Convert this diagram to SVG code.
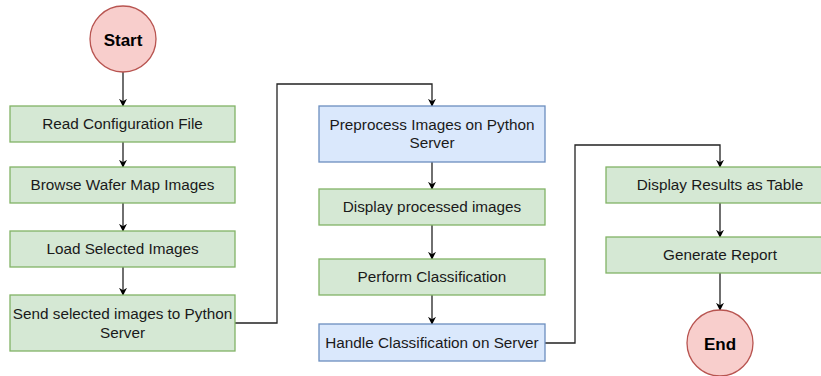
<svg xmlns="http://www.w3.org/2000/svg" width="821" height="376" viewBox="0 0 821 376">
  <defs>
    <marker id="arrow" viewBox="0 0 10 10" refX="9" refY="5" markerWidth="8" markerHeight="8" markerUnits="userSpaceOnUse" orient="auto">
      <path d="M0,0 L10,5 L0,10 L3,5 Z" fill="#000"/>
    </marker>
    <style>
      .green { fill: #d5e8d4; stroke: #82b366; stroke-width: 1.3; }
      .blue { fill: #dae8fc; stroke: #6c8ebf; stroke-width: 1.3; }
      .red { fill: #f8cecc; stroke: #b85450; stroke-width: 1.3; }
      .label { font-family: "Liberation Sans", Arial, sans-serif; font-size: 15.3px; fill: #1a1a1a; text-anchor: middle; dominant-baseline: central; }
      .term { font-family: "Liberation Sans", Arial, sans-serif; font-size: 17px; font-weight: bold; fill: #000; text-anchor: middle; dominant-baseline: central; }
      .edge { fill: none; stroke: #222; stroke-width: 1.3; marker-end: url(#arrow); }
    </style>
  </defs>
  <rect width="821" height="376" fill="#fff"/>

  <g id="connectors">
    <path class="edge" d="M123,72 V106"/>
    <path class="edge" d="M123,142 V167"/>
    <path class="edge" d="M123,203 V231"/>
    <path class="edge" d="M123,267 V295"/>
    <path class="edge" d="M235,323 H277 V84 H432 V106"/>
    <path class="edge" d="M432,162 V189"/>
    <path class="edge" d="M432,225 V259"/>
    <path class="edge" d="M432,295 V324"/>
    <path class="edge" d="M545,343 H575 V145 H720 V167"/>
    <path class="edge" d="M720,203 V237"/>
    <path class="edge" d="M720,273 V310"/>
  </g>

  <g id="start">
    <circle class="red" cx="123" cy="39" r="33"/>
    <text class="term" x="123" y="40">Start</text>
  </g>
  <g id="read-config">
    <rect class="green" x="10" y="106" width="225" height="36"/>
    <text class="label" x="122.5" y="123">Read Configuration File</text>
  </g>
  <g id="browse-images">
    <rect class="green" x="10" y="167" width="225" height="36"/>
    <text class="label" x="122.5" y="184">Browse Wafer Map Images</text>
  </g>
  <g id="load-images">
    <rect class="green" x="10" y="231" width="225" height="36"/>
    <text class="label" x="122.5" y="248">Load Selected Images</text>
  </g>
  <g id="send-images">
    <rect class="green" x="10" y="295" width="225" height="56"/>
    <text class="label" x="122.5" y="313">Send selected images to Python</text>
    <text class="label" x="122.5" y="332">Server</text>
  </g>
  <g id="preprocess">
    <rect class="blue" x="319" y="106" width="226" height="56"/>
    <text class="label" x="432" y="124">Preprocess Images on Python</text>
    <text class="label" x="432" y="142">Server</text>
  </g>
  <g id="display-processed">
    <rect class="green" x="319" y="189" width="226" height="36"/>
    <text class="label" x="432" y="206">Display processed images</text>
  </g>
  <g id="classify">
    <rect class="green" x="319" y="259" width="226" height="36"/>
    <text class="label" x="432" y="276">Perform Classification</text>
  </g>
  <g id="handle-classification">
    <rect class="blue" x="319" y="324" width="226" height="37"/>
    <text class="label" x="432" y="342">Handle Classification on Server</text>
  </g>
  <g id="display-results">
    <rect class="green" x="606" y="167" width="228" height="36"/>
    <text class="label" x="720" y="184">Display Results as Table</text>
  </g>
  <g id="report">
    <rect class="green" x="606" y="237" width="228" height="36"/>
    <text class="label" x="720" y="254">Generate Report</text>
  </g>
  <g id="end">
    <circle class="red" cx="720" cy="343" r="33"/>
    <text class="term" x="720" y="344">End</text>
  </g>
</svg>
